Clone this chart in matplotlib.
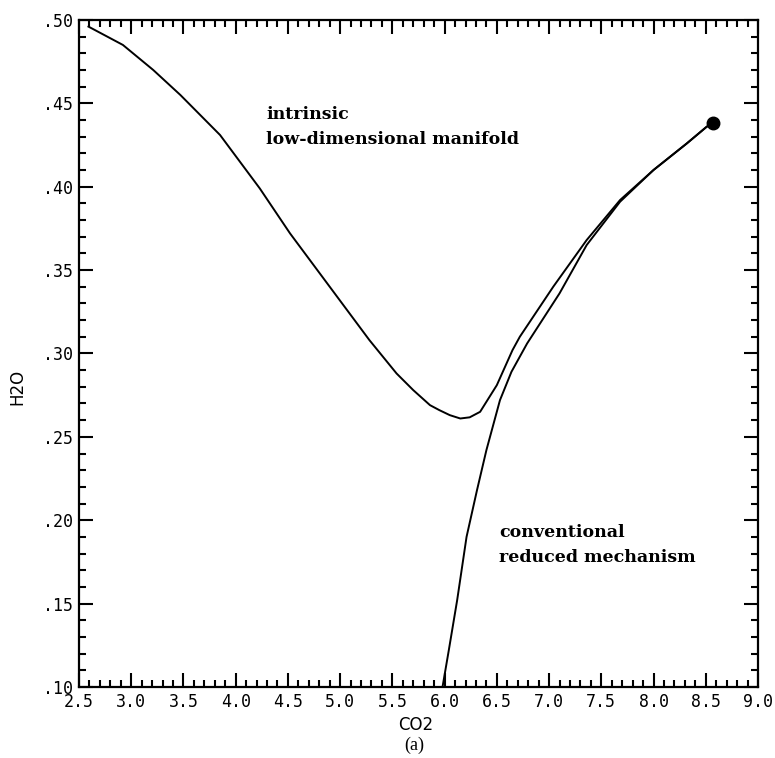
import matplotlib
matplotlib.use('Agg')
import matplotlib.pyplot as plt
from matplotlib.ticker import MultipleLocator, FuncFormatter

# intrinsic low-dimensional manifold
ildm_co2 = [2.59, 2.92, 3.21, 3.47, 3.85, 4.23, 4.52, 4.90, 5.28, 5.54, 5.70,
            5.86, 5.95, 6.05, 6.15, 6.24, 6.34, 6.50, 6.65, 6.72, 7.04, 7.36,
            7.68, 8.00, 8.32, 8.51, 8.57]
ildm_h2o = [0.496, 0.485, 0.470, 0.455, 0.431, 0.399, 0.372, 0.340, 0.308, 0.288,
            0.278, 0.269, 0.266, 0.263, 0.261, 0.2617, 0.265, 0.281, 0.302, 0.310,
            0.340, 0.368, 0.392, 0.410, 0.426, 0.436, 0.438]

# conventional reduced mechanism
conv_co2 = [5.98, 6.04, 6.12, 6.21, 6.31, 6.40, 6.53, 6.64, 6.79, 7.10, 7.36,
            7.68, 8.00, 8.32, 8.51, 8.57]
conv_h2o = [0.10, 0.122, 0.152, 0.190, 0.218, 0.242, 0.272, 0.289, 0.306, 0.336,
            0.365, 0.391, 0.410, 0.426, 0.436, 0.438]

# equilibrium point
eq_co2 = [8.57]
eq_h2o = [0.438]

fig = plt.figure(figsize=(7.75, 7.58), dpi=100)
ax = fig.add_axes([0.102, 0.0937, 0.876, 0.88])

ax.plot(ildm_co2, ildm_h2o, color='black', lw=1.4)
ax.plot(conv_co2, conv_h2o, color='black', lw=1.4)
ax.plot(eq_co2, eq_h2o, 'o', color='black', markersize=9)

ax.set_xlim(2.5, 9.0)
ax.set_ylim(0.10, 0.50)

ax.xaxis.set_major_locator(MultipleLocator(0.5))
ax.xaxis.set_minor_locator(MultipleLocator(0.1))
ax.yaxis.set_major_locator(MultipleLocator(0.05))
ax.yaxis.set_minor_locator(MultipleLocator(0.01))
ax.xaxis.set_major_formatter(FuncFormatter(lambda v, p: '%.1f' % v))
ax.yaxis.set_major_formatter(FuncFormatter(lambda v, p: ('%.2f' % v)[1:]))

ax.tick_params(which='both', direction='in', top=True, right=True, width=1.5,
               labelsize=12, pad=4)
ax.tick_params(which='major', length=10)
ax.tick_params(which='minor', length=5)
for lab in ax.get_xticklabels() + ax.get_yticklabels():
    lab.set_family('DejaVu Sans Mono')
for sp in ax.spines.values():
    sp.set_linewidth(1.6)

fig.text(0.537, 0.043, 'CO2', family='DejaVu Sans', fontsize=12,
         ha='center', va='center')
fig.text(0.022, 0.49, 'H2O', family='DejaVu Sans', fontsize=12,
         ha='center', va='center', rotation=90)
fig.text(0.535, 0.017, '(a)', family='Liberation Serif', fontsize=13,
         ha='center', va='center')

ax.text(4.29, 0.436, 'intrinsic\nlow-dimensional manifold', family='DejaVu Serif',
        fontweight='bold', fontsize=12.5, ha='left', va='center', linespacing=1.6)
ax.text(6.52, 0.185, 'conventional\nreduced mechanism', family='DejaVu Serif',
        fontweight='bold', fontsize=12.5, ha='left', va='center', linespacing=1.6)

fig.savefig('out.png', dpi=100)
